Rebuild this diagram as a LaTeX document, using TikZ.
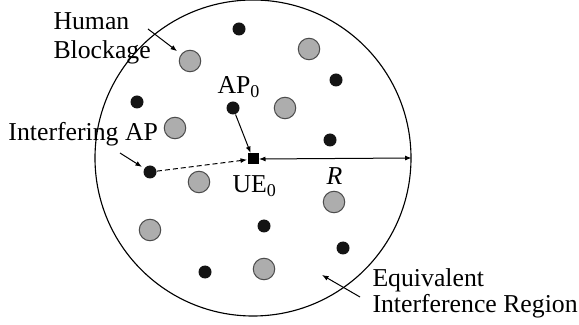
\documentclass[tikz,border=0pt]{standalone}
\usepackage{fontspec}
\setmainfont{Liberation Serif}
\usetikzlibrary{arrows.meta}
\colorlet{netgray}{black!32}
\colorlet{netedge}{black!70}
\tikzset{
  netdot/.style={circle,fill=black!92,inner sep=0pt,minimum size=5.2pt},
  netblock/.style={circle,draw=netedge,fill=netgray,line width=0.4pt,
                   inner sep=0pt,minimum size=8.6pt},
  netue/.style={rectangle,fill=black,inner sep=0pt,minimum size=4.4pt},
  netregion/.style={circle,draw,line width=0.45pt,inner sep=0pt,
                    minimum size=126.4pt},
  netlabel/.style={font=\fontsize{10.3}{11.6}\selectfont,inner sep=0pt,align=left},
  nettight/.style={netlabel,font=\fontsize{10.3}{8.8}\selectfont},
  netarrow/.style={-{Latex[length=2.6pt,width=2pt]},line width=0.4pt},
  netdash/.style={netarrow,dashed,dash pattern=on 2pt off 1.2pt},
  netrange/.style={{Latex[length=2.6pt,width=2pt]}-{Latex[length=2.6pt,width=2pt]},
                   line width=0.4pt}
}

\begin{document}
\begin{tikzpicture}[x=0.4pt,y=-0.4pt]
  \useasboundingbox (0,0) rectangle (579,325);
  \node[netregion] (region) at (253,158) {};
  \node[netue] (ue) at (253,159) {};

  % access points
  \node[netdot] (ap1) at (239,29) {};
  \node[netdot] (ap2) at (336,80) {};
  \node[netdot] (ap3) at (137,102) {};
  \node[netdot] (ap0) at (233,108) {};
  \node[netdot] (ap4) at (330,140) {};
  \node[netdot] (apint) at (150,172) {};
  \node[netdot] (ap5) at (264,226) {};
  \node[netdot] (ap6) at (343,248) {};
  \node[netdot] (ap7) at (205,272) {};

  % human blockages
  \node[netblock] (hb1) at (190,61) {};
  \node[netblock] (hb2) at (309,49) {};
  \node[netblock] (hb3) at (285,108) {};
  \node[netblock] (hb4) at (175,128) {};
  \node[netblock] (hb5) at (199,182) {};
  \node[netblock] (hb6) at (334,202) {};
  \node[netblock] (hb7) at (150,230) {};
  \node[netblock] (hb8) at (264,269) {};

  % labels
  \node[netlabel,anchor=north west] (hblabel) at (53,12) {Human\\Blockage};
  \node[netlabel,anchor=base west] (intlabel) at (8,141) {Interfering AP};
  \node[netlabel,anchor=base west] (aplabel) at (217,94) {AP\textsubscript{0}};
  \node[netlabel,anchor=base west] (uelabel) at (232,193) {UE\textsubscript{0}};
  \node[netlabel,anchor=base west] (rlabel) at (326,185) {\textit{R}};
  \node[nettight,anchor=north west] (eqlabel) at (372,268)
    {Equivalent\\Interference Region};

  \coordinate (hbtail) at (148,29);
  \coordinate (inttail) at (120,153);
  \coordinate (eqtail) at (360,297);
  \coordinate (eqhead) at (322,275);

  \draw[netarrow,shorten >=2pt] (hbtail) -- (hb1);
  \draw[netarrow,shorten >=1pt] (inttail) -- (apint);
  \draw[netarrow] (ap0) -- (ue);
  \draw[netdash] (apint) -- (ue);
  \draw[netrange] (ue.east) -- (region.east);
  \draw[netarrow] (eqtail) -- (eqhead);
\end{tikzpicture}
\end{document}
